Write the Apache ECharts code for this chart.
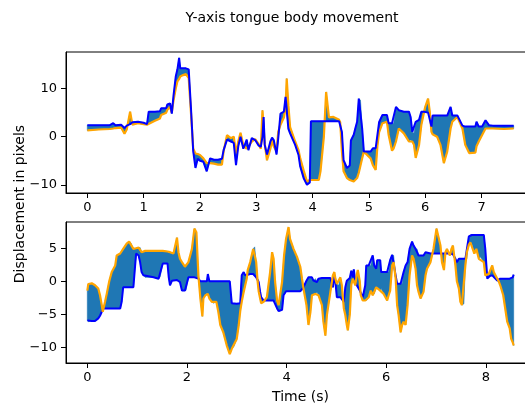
<!DOCTYPE html>
<html><head><meta charset="utf-8">
<script src="https://cdn.jsdelivr.net/npm/echarts@6/dist/echarts.min.js"></script>
<style>html,body{margin:0;padding:0;background:#fff}#c{width:525px;height:406px}</style>
</head><body><div id="c"></div>
<script>
const topTime=[0.00,0.20,0.40,0.46,0.50,0.60,0.66,0.70,0.76,0.80,0.90,1.00,1.06,1.09,1.20,1.29,1.31,1.40,1.42,1.47,1.50,1.53,1.57,1.60,1.63,1.65,1.70,1.75,1.80,1.84,1.88,1.92,1.96,2.00,2.06,2.12,2.18,2.25,2.32,2.39,2.42,2.48,2.55,2.60,2.64,2.68,2.72,2.77,2.83,2.86,2.92,2.98,3.04,3.08,3.11,3.13,3.15,3.19,3.25,3.28,3.31,3.36,3.39,3.43,3.49,3.52,3.54,3.57,3.60,3.69,3.75,3.78,3.84,3.90,3.95,3.97,4.11,4.14,4.20,4.24,4.29,4.37,4.47,4.49,4.52,4.55,4.61,4.66,4.68,4.73,4.76,4.79,4.82,4.85,4.88,4.91,5.03,5.07,5.12,5.15,5.18,5.24,5.32,5.35,5.41,5.44,5.48,5.53,5.62,5.71,5.74,5.77,5.80,5.83,5.89,5.93,5.98,6.00,6.05,6.08,6.11,6.13,6.21,6.27,6.33,6.39,6.45,6.48,6.57,6.66,6.71,6.78,6.89,6.91,6.95,7.01,7.07,7.13,7.20,7.40,7.57];
const topBlue=[2.4,2.4,2.4,2.8,2.4,2.5,1.8,2.3,2.6,3.0,3.1,2.9,2.6,5.2,5.2,5.3,5.9,5.9,6.7,6.9,4.8,8.5,12.5,14.0,16.4,14.2,14.2,14.2,14.0,6.0,-3.0,-6.5,-4.6,-5.0,-5.2,-7.2,-4.5,-4.8,-4.8,-4.6,-2.8,-0.6,-1.0,-1.3,-5.9,-2.0,0.0,-2.5,-0.6,-2.8,-0.3,-0.7,-1.8,-2.1,0.0,4.1,-1.7,-3.7,-1.0,-0.2,-0.7,-3.7,-0.3,4.8,5.2,8.3,5.5,1.6,0.7,-1.7,-3.8,-6.2,-8.6,-10.0,-9.5,3.2,3.2,3.2,3.2,3.2,3.2,3.2,3.2,3.0,1.0,-4.9,-6.5,-6.0,-0.8,0.4,1.8,3.1,7.9,7.6,1.7,-3.1,-3.1,-2.4,-2.4,-2.2,3.0,4.5,4.5,2.8,2.8,2.8,6.2,5.5,5.2,5.2,4.1,1.0,0.7,3.1,3.5,5.2,5.2,5.2,5.0,4.8,2.1,4.4,4.4,4.4,4.4,4.4,6.2,4.4,4.4,2.3,2.1,2.1,2.1,3.1,2.1,2.1,3.4,2.4,2.3,2.3,2.3];
const topOrange=[1.3,1.5,1.6,1.7,1.8,1.9,0.6,1.5,5.2,2.5,2.8,2.6,2.5,2.9,3.3,3.8,4.5,5.0,5.6,6.2,5.0,7.5,10.0,11.5,12.0,12.5,12.8,13.0,12.2,5.0,-2.5,-3.5,-3.6,-3.8,-4.5,-5.5,-5.5,-5.6,-5.8,-5.8,-3.0,0.3,-0.3,0.0,-3.5,-1.0,0.8,-1.8,-2.5,-2.0,-1.0,-0.5,-1.5,-2.5,5.5,2.0,-1.5,-4.9,-2.5,-0.8,-2.0,-3.0,1.0,2.5,4.0,6.0,12.1,6.5,2.0,-1.0,-2.8,-4.5,-7.0,-9.3,-9.0,-9.0,-9.0,-7.2,0.0,9.3,4.0,4.1,3.5,3.0,-3.0,-7.2,-8.6,-9.0,-9.0,-9.3,-9.0,-8.6,-7.5,-6.0,-4.5,-3.1,-4.5,-5.9,-6.9,-2.0,0.9,2.8,3.1,0.35,-2.9,-2.4,-1.0,1.7,0.7,-1.0,-0.7,-1.0,-1.7,-4.4,-1.7,2.4,5.2,6.2,7.9,5.2,1.0,0.5,0.0,-1.7,-5.5,-3.1,1.7,3.1,4.1,1.7,-1.7,-3.4,-3.3,-2.0,-1.0,0.35,1.7,1.7,1.7,1.6,1.7];

const bottomTime=[0.00,0.02,0.09,0.155,0.22,0.255,0.29,0.31,0.32,0.356,0.39,0.44,0.49,0.56,0.59,0.66,0.69,0.72,0.79,0.84,0.88,0.925,0.96,0.98,1.03,1.06,1.09,1.126,1.16,1.33,1.43,1.46,1.515,1.61,1.635,1.66,1.70,1.73,1.80,1.83,1.86,1.90,1.96,1.98,2.03,2.10,2.15,2.19,2.23,2.27,2.31,2.33,2.37,2.40,2.42,2.45,2.50,2.53,2.59,2.63,2.67,2.73,2.80,2.86,2.90,2.94,3.00,3.04,3.07,3.10,3.14,3.17,3.20,3.22,3.27,3.33,3.36,3.39,3.42,3.44,3.47,3.49,3.54,3.605,3.67,3.71,3.74,3.77,3.81,3.84,3.86,3.91,3.94,3.95,3.99,4.04,4.07,4.14,4.21,4.276,4.31,4.34,4.40,4.44,4.48,4.51,4.54,4.58,4.61,4.64,4.71,4.74,4.78,4.81,4.88,4.93,4.96,4.98,5.01,5.05,5.08,5.11,5.15,5.18,5.21,5.23,5.27,5.30,5.33,5.35,5.38,5.41,5.43,5.47,5.49,5.53,5.58,5.60,5.65,5.69,5.73,5.76,5.80,5.82,5.88,5.90,5.95,6.02,6.05,6.08,6.12,6.15,6.19,6.22,6.25,6.29,6.32,6.35,6.39,6.43,6.47,6.52,6.55,6.59,6.62,6.65,6.69,6.75,6.79,6.82,6.89,6.95,7.01,7.05,7.09,7.12,7.16,7.19,7.22,7.28,7.31,7.34,7.39,7.42,7.46,7.49,7.52,7.56,7.59,7.62,7.66,7.69,7.72,7.77,7.81,7.86,7.89,7.96,7.99,8.03,8.06,8.08,8.13,8.16,8.23,8.26,8.29,8.35,8.40,8.43,8.48,8.51,8.54,8.56];
const bottomBlue=[-5.9,-6.1,-6.0,-6.0,-5.6,-5.2,-4.6,-4.3,-4.1,-4.1,-4.1,-4.1,-4.1,-4.1,-4.1,-4.1,-3.1,-0.9,-0.9,-0.9,-0.9,-0.9,2.4,4.2,3.9,2.9,1.4,0.9,0.6,0.6,0.4,0.6,2.7,2.7,0.6,-0.6,0.1,0.2,0.2,-0.1,-0.1,-1.4,-1.4,-1.4,0.6,0.6,0.6,0.6,0.4,0.0,0.0,0.0,0.0,0.0,1.1,0.0,0.0,0.0,0.0,0.0,0.0,0.0,0.0,0.0,-3.3,-3.4,-3.4,-3.4,-3.3,0.9,1.4,0.9,0.6,1.0,1.1,1.1,0.8,0.6,0.4,-0.1,-1.6,-2.4,-2.9,-2.9,-2.9,-2.9,-2.9,-2.9,-4.1,-4.5,-4.5,-4.3,-2.1,-2.0,-1.5,-1.5,-1.5,-1.5,-1.5,-1.5,-1.4,-0.9,0.1,0.6,0.6,0.6,0.1,0.4,-0.1,0.4,0.5,0.5,0.5,0.5,0.5,-0.9,0.9,0.0,-2.4,-2.4,-2.4,-2.4,-3.1,-0.9,0.1,0.3,0.5,1.6,0.6,1.8,0.0,-0.6,-0.9,-1.4,-1.6,-2.4,-0.6,2.4,2.4,2.4,3.9,2.4,1.9,3.2,3.2,1.4,1.4,1.4,1.4,3.2,4.0,3.9,0.9,-0.35,-0.35,-0.35,-0.35,1.4,2.4,2.9,4.9,6.0,5.4,4.9,4.9,3.9,3.9,3.9,4.4,4.3,4.2,4.2,4.2,4.2,4.2,4.2,4.2,4.2,4.2,4.2,4.2,4.1,3.4,2.9,3.4,3.4,3.4,3.4,3.4,3.4,6.8,7.0,7.0,7.0,7.0,7.0,7.0,7.0,4.9,0.4,0.6,0.8,0.9,0.6,0.1,0.0,0.4,0.4,0.4,0.4,0.4,0.4,0.6,1.0];
const bottomOrange=[-1.4,-0.4,-0.3,-0.6,-1.1,-2.1,-3.6,-4.6,-4.4,-3.1,-1.9,0.0,1.4,2.4,3.9,4.2,4.4,4.9,5.7,6.0,5.7,4.9,5.0,5.0,5.1,5.1,4.4,4.5,4.6,4.6,4.6,4.5,4.6,4.5,4.3,4.4,4.3,4.2,6.6,4.4,3.4,2.9,2.2,2.4,2.9,4.9,7.96,7.4,0.9,-2.6,-5.3,-2.6,-2.1,-1.8,-1.9,-2.6,-3.1,-3.3,-3.1,-4.6,-6.6,-7.7,-9.7,-11.0,-10.2,-9.9,-8.7,-6.6,-4.5,-3.1,-1.6,-0.6,0.4,1.7,2.9,4.9,5.2,2.9,-0.1,-1.5,-2.6,-3.3,-3.1,-2.4,1.4,4.4,3.4,-0.1,-2.9,-3.6,-3.6,-0.1,2.9,3.9,6.4,8.2,6.4,4.9,3.7,2.2,0.4,-1.1,-3.6,-6.6,-4.6,-2.1,-1.9,-1.9,-1.6,-2.1,-3.6,-6.1,-8.2,-5.1,-1.6,0.9,1.4,0.4,-0.4,-0.6,0.6,-0.6,-4.1,-5.1,-6.6,-7.4,-5.0,-0.5,0.4,0.0,-0.6,1.0,1.7,0.0,-2.1,-2.9,-2.9,-2.9,-2.4,-1.4,-2.1,-1.9,-0.9,-1.1,-1.4,-1.1,-1.9,-2.9,-2.1,-1.4,2.4,2.9,0.4,-3.6,-5.1,-7.7,-6.6,-6.1,-6.6,-3.6,0.9,3.9,3.4,1.9,-0.6,-1.6,-2.6,-1.6,0.9,1.9,2.9,4.9,7.96,6.7,5.4,2.9,1.7,4.4,4.9,3.9,4.9,5.4,2.4,0.0,-1.1,-3.1,-3.6,-3.4,2.4,4.4,5.5,5.9,5.7,4.2,4.9,3.4,3.7,2.9,0.9,0.6,1.1,1.2,2.4,1.4,0.4,0.0,-0.6,-2.1,-4.6,-6.1,-7.1,-8.7,-9.2,-9.7];

const topXTicks=[0,1,2,3,4,5,6,7];
const topYTicks=[-10,0,10];
const bottomXTicks=[0,2,4,6,8];
const bottomYTicks=[-10,-5,0,5];

const FONT='DejaVu Sans';
function pairs(t,v){return t.map((x,i)=>[x,v[i]]);}
function fmt(v){return v<0?'\u2212'+Math.abs(v):String(v);}
function band(t,a,b,idx){
  return {type:'custom',xAxisIndex:idx,yAxisIndex:idx,data:[[t[0],a[0]]],z:1,silent:true,clip:true,
    renderItem:function(params,api){
      const pts=[];
      for(let i=0;i<t.length;i++) pts.push(api.coord([t[i],a[i]]));
      for(let i=t.length-1;i>=0;i--) pts.push(api.coord([t[i],b[i]]));
      return {type:'polygon',shape:{points:pts},style:{fill:'#1f77b4',stroke:'#1f77b4',lineWidth:0.6}};
    }};
}
function line(t,v,idx,color,z,w){
  return {type:'line',xAxisIndex:idx,yAxisIndex:idx,data:pairs(t,v),showSymbol:false,symbol:'none',z:z,
    lineStyle:{color:color,width:w},itemStyle:{color:color},silent:true,clip:true};
}
function xAx(idx,min,max,ticks,extra){
  return Object.assign({gridIndex:idx,type:'value',min:min,max:max,
    axisLine:{show:true,onZero:false,lineStyle:{color:'#000',width:1}},
    axisTick:{show:true,inside:false,length:5,lineStyle:{color:'#000',width:1},customValues:ticks},
    axisLabel:{customValues:ticks,formatter:fmt,color:'#000',fontSize:13,fontFamily:FONT,margin:8},
    splitLine:{show:false}},extra||{});
}
function yAx(idx,min,max,ticks){
  return {gridIndex:idx,type:'value',min:min,max:max,
    axisLine:{show:true,onZero:false,lineStyle:{color:'#000',width:1}},
    axisTick:{show:true,inside:false,length:5,lineStyle:{color:'#000',width:1},customValues:ticks},
    axisLabel:{customValues:ticks,formatter:fmt,color:'#000',fontSize:13,fontFamily:FONT,margin:9},
    splitLine:{show:false}};
}
const chart=echarts.init(document.getElementById('c'),null,{renderer:'canvas'});
chart.setOption({
  animation:false,
  backgroundColor:'#fff',
  textStyle:{fontFamily:FONT},
  grid:[
    {left:66,top:52,width:469,height:141,show:true,borderColor:'#000',borderWidth:1,backgroundColor:'transparent',containLabel:false,outerBoundsMode:'none'},
    {left:66,top:222,width:469,height:141,show:true,borderColor:'#000',borderWidth:1,backgroundColor:'transparent',containLabel:false,outerBoundsMode:'none'}
  ],
  xAxis:[
    xAx(0,-0.3785,7.9485,topXTicks),
    xAx(1,-0.428,8.988,bottomXTicks,{name:'Time (s)',nameLocation:'middle',nameGap:27,nameTextStyle:{fontSize:14,color:'#000',fontFamily:FONT}})
  ],
  yAxis:[
    yAx(0,-11.7,17.6,topYTicks),
    yAx(1,-12.34,8.96,bottomYTicks)
  ],
  graphic:[
    {type:'text',x:292,y:18,silent:true,style:{text:'Y-axis tongue body movement',fill:'#000',fontSize:14,fontFamily:FONT,align:'center',verticalAlign:'middle'}},
    {type:'text',x:20,y:204,rotation:Math.PI/2,silent:true,style:{text:'Displacement in pixels',fill:'#000',fontSize:14,fontFamily:FONT,align:'center',verticalAlign:'middle'}}
  ],
  series:[
    band(topTime,topBlue,topOrange,0),
    line(topTime,topOrange,0,'#ffa500',2,2.2),
    line(topTime,topBlue,0,'#0000ff',3,2),
    band(bottomTime,bottomBlue,bottomOrange,1),
    line(bottomTime,bottomBlue,1,'#0000ff',2,2),
    line(bottomTime,bottomOrange,1,'#ffa500',3,2.2)
  ]
});
</script></body></html>
